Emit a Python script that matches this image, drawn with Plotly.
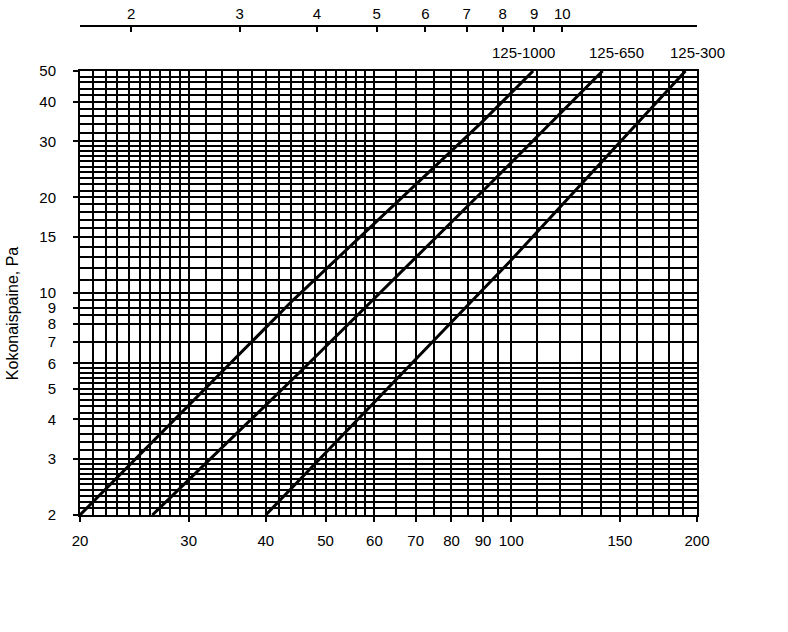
import math
import plotly.graph_objects as go

# ---------------- data ----------------
flow_ticks = [20, 30, 40, 50, 60, 70, 80, 90, 100, 150, 200]          # bottom axis, l/s
pressure_ticks = [2, 3, 4, 5, 6, 7, 8, 9, 10, 15, 20, 30, 40, 50]      # left axis, Pa
velocity_ticks = [2, 3, 4, 5, 6, 7, 8, 9, 10]                          # top axis, m/s
flow_per_velocity = 12.1                                               # top/bottom scale ratio

flow_grid = [20, 21, 22, 23, 24, 25, 26, 27, 28, 29, 30,
             32, 34, 36, 38, 40, 42, 44, 46, 48, 50,
             52, 54, 56, 58, 60, 65, 70, 75, 80, 85, 90, 95, 100,
             110, 120, 130, 140, 150, 160, 170, 180, 190, 200]
pressure_grid = [2.0, 2.1, 2.2, 2.3, 2.4, 2.5, 2.6, 2.7, 2.8, 2.9, 3.0,
                 3.2, 3.4, 3.6, 3.8, 4.0, 4.2, 4.4, 4.6, 4.8, 5.0,
                 5.2, 5.4, 5.6, 5.8, 6.0, 7, 8, 8.5, 9, 9.5, 10,
                 11, 12, 13, 14, 15, 16, 17, 18, 19, 20,
                 21, 22, 23, 24, 25, 26, 27, 28, 29, 30,
                 32, 34, 36, 38, 40, 42, 44, 46, 48, 50]

series_names = ["125-1000", "125-650", "125-300"]
flow_1000 = [20, 44.3, 89.2, 108.5]
pres_1000 = [2, 9.5, 34.2, 50]
flow_650 = [26.2, 45.5, 89.2, 140.6]
pres_650 = [2, 5.65, 20.6, 50]
flow_300 = [40, 100, 191.6]
pres_300 = [2, 12.7, 50]

y_title = "Kokonaispaine, Pa"

# ---------------- figure ----------------
FONT = "Liberation Sans, Arial, sans-serif"
fig = go.Figure()

for name, xs, ys in [(series_names[0], flow_1000, pres_1000),
                     (series_names[1], flow_650, pres_650),
                     (series_names[2], flow_300, pres_300)]:
    fig.add_trace(go.Scatter(x=xs, y=ys, mode="lines", name=name,
                             line=dict(color="black", width=3),
                             xaxis="x", yaxis="y", showlegend=False,
                             hoverinfo="skip"))

# invisible traces so the secondary axes are created
fig.add_trace(go.Scatter(x=[velocity_ticks[0]], y=[pressure_ticks[0]], mode="markers",
                         marker=dict(opacity=0), xaxis="x2", yaxis="y",
                         showlegend=False, hoverinfo="skip"))
fig.add_trace(go.Scatter(x=[flow_grid[0]], y=[pressure_grid[0]], mode="markers",
                         marker=dict(opacity=0), xaxis="x3", yaxis="y3",
                         showlegend=False, hoverinfo="skip"))

xr = [math.log10(flow_ticks[0]), math.log10(flow_ticks[-1])]
yr = [math.log10(pressure_ticks[0]), math.log10(pressure_ticks[-1])]
x2r = [math.log10(flow_ticks[0] / flow_per_velocity),
       math.log10(flow_ticks[-1] / flow_per_velocity)]

ydom = [0, 0.908]

fig.update_layout(
    width=788, height=632,
    margin=dict(l=80, r=91, t=26, b=117),
    paper_bgcolor="white", plot_bgcolor="white",
    font=dict(family=FONT, size=15, color="black"),
    showlegend=False,
    xaxis=dict(type="log", range=xr, tickmode="array", tickvals=flow_ticks,
               ticktext=[str(v) for v in flow_ticks], showgrid=False,
               showline=True, linecolor="black", linewidth=2, mirror=True,
               ticks="outside", ticklen=5, tickwidth=2, tickcolor="black",
               ticklabelstandoff=6, zeroline=False, automargin=False),
    yaxis=dict(type="log", range=yr, domain=ydom, tickmode="array",
               tickvals=pressure_ticks, ticktext=[str(v) for v in pressure_ticks],
               showgrid=False, showline=True, linecolor="black", linewidth=2,
               mirror=True, ticks="outside", ticklen=5, tickwidth=2,
               tickcolor="black", ticklabelstandoff=14, zeroline=False,
               automargin=False),
    xaxis2=dict(type="log", range=x2r, overlaying="x", side="top",
                anchor="free", position=1.0, tickmode="array",
                tickvals=velocity_ticks, ticktext=[str(v) for v in velocity_ticks],
                showgrid=False, showline=True, linecolor="black", linewidth=2,
                ticks="inside", ticklen=5, tickwidth=2, tickcolor="black",
                zeroline=False, automargin=False),
    xaxis3=dict(type="log", range=xr, overlaying="x", anchor="y3",
                tickmode="array", tickvals=flow_grid, showticklabels=False,
                ticks="", showgrid=True, gridcolor="black", gridwidth=2,
                showline=False, zeroline=False, automargin=False),
    yaxis3=dict(type="log", range=yr, domain=ydom, overlaying="y", anchor="x3",
                tickmode="array", tickvals=pressure_grid, showticklabels=False,
                ticks="", showgrid=True, gridcolor="black", gridwidth=2,
                showline=False, zeroline=False, automargin=False),
)

# series labels above the plot
label_x = [0.718, 0.869, 1.0]
for name, lx in zip(series_names, label_x):
    fig.add_annotation(text=name, xref="paper", yref="paper", x=lx, y=0.945,
                       xanchor="center", yanchor="middle", showarrow=False,
                       font=dict(family=FONT, size=15, color="black"))

fig.add_annotation(text=y_title, xref="paper", yref="paper", x=-0.110, y=0.413,
                   textangle=-90, xanchor="center", yanchor="middle",
                   showarrow=False, font=dict(family=FONT, size=16, color="black"))

# remove the default 8px page margin so the figure fills the window exactly
fig.write_html("out.html",
               config={"displayModeBar": False},
               post_script="document.body.style.margin='0px';document.body.style.overflow='hidden';")
